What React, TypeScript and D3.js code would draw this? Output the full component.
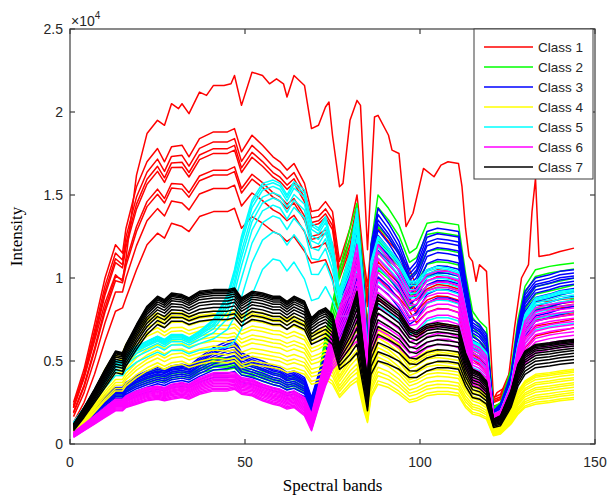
import React from "react";
import * as d3 from "d3";

// Band positions where each class envelope is sampled
const KNOTS = [
  1, 4, 7, 10, 13, 15, 16, 19, 22, 25,
  27, 29, 32, 34, 37, 41, 45, 47, 49, 52,
  55, 58, 60, 62, 64, 67, 69, 71, 73, 75,
  77, 80, 82, 84, 85, 86, 88, 91, 94, 97,
  99, 102, 105, 108, 111, 113, 115, 117, 119, 121,
  123, 126, 128, 130, 133, 137, 140, 144,
];

// Intensity envelopes (×10^4): upper and lower spectrum of every class
const CLASS1_HI = [
  0.25, 0.45, 0.72, 1.0, 1.2, 1.15, 1.3, 1.55, 1.7, 1.78,
  1.7, 1.79, 1.8, 1.73, 1.84, 1.88, 1.88, 1.9, 1.76, 1.86,
  1.8, 1.73, 1.7, 1.65, 1.69, 1.57, 1.4, 1.41, 1.46, 1.4,
  1.1, 1.3, 1.5, 1.1, 0.95, 1.2, 1.3, 1.22, 1.15, 1.05,
  0.95, 1.02, 1.05, 1.04, 1.02, 0.75, 0.65, 0.62, 0.55, 0.28,
  0.3, 0.45, 0.65, 0.78, 0.86, 0.86, 0.87, 0.88,
];
const CLASS1_LO = [
  0.13, 0.25, 0.42, 0.62, 0.8, 0.82, 0.88, 1.05, 1.2, 1.27,
  1.24, 1.33, 1.31, 1.28, 1.37, 1.4, 1.4, 1.42, 1.3, 1.37,
  1.33, 1.28, 1.26, 1.22, 1.25, 1.16, 1.09, 1.1, 1.11, 1.0,
  0.72, 0.82, 0.95, 0.7, 0.5, 0.7, 0.88, 0.82, 0.77, 0.7,
  0.64, 0.7, 0.72, 0.72, 0.7, 0.55, 0.45, 0.42, 0.38, 0.17,
  0.18, 0.3, 0.45, 0.58, 0.65, 0.67, 0.68, 0.7,
];
const CLASS2_HI = [
  0.09, 0.15, 0.22, 0.28, 0.33, 0.33, 0.36, 0.4, 0.43, 0.45,
  0.44, 0.46, 0.47, 0.46, 0.5, 0.52, 0.52, 0.53, 0.48, 0.48,
  0.45, 0.43, 0.42, 0.4, 0.41, 0.37, 0.25, 0.4, 0.65, 0.85,
  1.05, 1.3, 1.45, 1.0, 0.6, 1.2, 1.5, 1.42, 1.32, 1.15,
  1.18, 1.33, 1.34, 1.33, 1.32, 1.03, 0.8, 0.74, 0.7, 0.22,
  0.25, 0.45, 0.75, 0.95, 1.05, 1.07, 1.08, 1.09,
];
const CLASS2_LO = [
  0.07, 0.12, 0.18, 0.24, 0.28, 0.28, 0.31, 0.34, 0.36, 0.38,
  0.37, 0.39, 0.4, 0.39, 0.42, 0.44, 0.44, 0.45, 0.41, 0.4,
  0.37, 0.35, 0.34, 0.32, 0.33, 0.3, 0.2, 0.32, 0.5, 0.65,
  0.75, 0.9, 1.0, 0.7, 0.45, 0.8, 1.0, 0.95, 0.88, 0.78,
  0.8, 0.88, 0.9, 0.9, 0.88, 0.7, 0.55, 0.52, 0.48, 0.18,
  0.2, 0.35, 0.55, 0.7, 0.78, 0.8, 0.82, 0.85,
];
const CLASS3_HI = [
  0.1, 0.16, 0.23, 0.29, 0.34, 0.34, 0.37, 0.41, 0.44, 0.46,
  0.45, 0.47, 0.48, 0.47, 0.52, 0.58, 0.62, 0.63, 0.55, 0.52,
  0.5, 0.47, 0.46, 0.43, 0.44, 0.4, 0.28, 0.42, 0.55, 0.68,
  0.78, 1.15, 1.4, 0.95, 0.55, 1.2, 1.42, 1.33, 1.22, 1.05,
  1.1, 1.28, 1.3, 1.29, 1.28, 1.0, 0.75, 0.72, 0.66, 0.2,
  0.24, 0.42, 0.72, 0.92, 1.0, 1.02, 1.04, 1.05,
];
const CLASS3_LO = [
  0.07, 0.11, 0.16, 0.2, 0.24, 0.24, 0.26, 0.29, 0.31, 0.33,
  0.32, 0.34, 0.35, 0.34, 0.37, 0.4, 0.4, 0.41, 0.37, 0.36,
  0.34, 0.32, 0.31, 0.29, 0.3, 0.27, 0.18, 0.3, 0.42, 0.52,
  0.55, 0.8, 0.95, 0.65, 0.4, 0.8, 0.95, 0.9, 0.82, 0.72,
  0.75, 0.85, 0.88, 0.88, 0.86, 0.68, 0.52, 0.5, 0.45, 0.15,
  0.18, 0.32, 0.52, 0.65, 0.74, 0.76, 0.78, 0.8,
];
const CLASS4_HI = [
  0.1, 0.2, 0.32, 0.45, 0.55, 0.55, 0.6, 0.7, 0.76, 0.79,
  0.76, 0.79, 0.79, 0.77, 0.79, 0.8, 0.8, 0.81, 0.77, 0.8,
  0.79, 0.77, 0.77, 0.75, 0.77, 0.74, 0.66, 0.68, 0.71, 0.68,
  0.52, 0.65, 0.72, 0.45, 0.25, 0.55, 0.7, 0.66, 0.6, 0.5,
  0.52, 0.56, 0.57, 0.56, 0.55, 0.45, 0.38, 0.36, 0.32, 0.1,
  0.12, 0.22, 0.32, 0.38, 0.42, 0.43, 0.44, 0.45,
];
const CLASS4_LO = [
  0.06, 0.12, 0.19, 0.26, 0.32, 0.32, 0.35, 0.4, 0.44, 0.47,
  0.45, 0.47, 0.48, 0.46, 0.48, 0.5, 0.49, 0.5, 0.46, 0.48,
  0.47, 0.46, 0.45, 0.43, 0.44, 0.42, 0.36, 0.37, 0.39, 0.36,
  0.28, 0.35, 0.38, 0.2, 0.13, 0.28, 0.36, 0.34, 0.3, 0.25,
  0.26, 0.29, 0.3, 0.3, 0.29, 0.22, 0.18, 0.17, 0.15, 0.05,
  0.06, 0.12, 0.18, 0.22, 0.24, 0.25, 0.26, 0.27,
];
const CLASS5_HI = [
  0.13, 0.22, 0.32, 0.42, 0.5, 0.5, 0.54, 0.59, 0.62, 0.65,
  0.63, 0.66, 0.66, 0.64, 0.68, 0.75, 0.9, 1.05, 1.25, 1.47,
  1.57, 1.59, 1.57, 1.5, 1.58, 1.53, 1.33, 1.3, 1.37, 1.2,
  0.92, 1.15, 1.42, 0.9, 0.5, 1.1, 1.25, 1.18, 1.1, 0.98,
  0.98, 1.05, 1.07, 1.06, 1.04, 0.82, 0.62, 0.6, 0.55, 0.18,
  0.2, 0.36, 0.6, 0.78, 0.88, 0.9, 0.92, 0.93,
];
const CLASS5_LO = [
  0.1, 0.17, 0.25, 0.33, 0.4, 0.4, 0.43, 0.48, 0.51, 0.54,
  0.52, 0.55, 0.55, 0.53, 0.55, 0.55, 0.54, 0.56, 0.62, 0.82,
  0.98, 1.05, 1.04, 0.98, 1.03, 0.92, 0.8, 0.82, 0.89, 0.82,
  0.75, 0.72, 0.8, 0.55, 0.35, 0.65, 0.78, 0.74, 0.7, 0.62,
  0.63, 0.7, 0.72, 0.72, 0.7, 0.56, 0.44, 0.42, 0.38, 0.14,
  0.15, 0.28, 0.45, 0.58, 0.66, 0.68, 0.69, 0.7,
];
const CLASS6_HI = [
  0.07, 0.12, 0.17, 0.22, 0.27, 0.27, 0.29, 0.32, 0.34, 0.35,
  0.34, 0.36, 0.37, 0.36, 0.4, 0.43, 0.43, 0.43, 0.4, 0.39,
  0.36, 0.34, 0.33, 0.31, 0.32, 0.28, 0.18, 0.35, 0.52, 0.68,
  0.82, 1.0, 1.2, 0.85, 0.5, 1.0, 1.2, 1.12, 1.05, 0.92,
  0.93, 1.02, 1.04, 1.04, 1.02, 0.82, 0.6, 0.58, 0.53, 0.18,
  0.2, 0.35, 0.58, 0.74, 0.82, 0.84, 0.85, 0.86,
];
const CLASS6_LO = [
  0.04, 0.08, 0.12, 0.16, 0.2, 0.2, 0.22, 0.24, 0.26, 0.27,
  0.26, 0.27, 0.28, 0.27, 0.3, 0.32, 0.32, 0.33, 0.3, 0.29,
  0.26, 0.24, 0.23, 0.21, 0.22, 0.17, 0.08, 0.22, 0.35, 0.45,
  0.5, 0.58, 0.62, 0.45, 0.3, 0.55, 0.65, 0.62, 0.58, 0.52,
  0.53, 0.58, 0.6, 0.6, 0.58, 0.46, 0.36, 0.34, 0.31, 0.12,
  0.13, 0.24, 0.38, 0.48, 0.55, 0.57, 0.58, 0.59,
];
const CLASS7_HI = [
  0.12, 0.22, 0.33, 0.45, 0.56, 0.55, 0.6, 0.72, 0.83, 0.89,
  0.87, 0.91, 0.9, 0.88, 0.92, 0.93, 0.93, 0.94, 0.88, 0.92,
  0.91, 0.89, 0.89, 0.86, 0.89, 0.86, 0.76, 0.8, 0.82, 0.78,
  0.6, 0.78, 0.92, 0.55, 0.39, 0.75, 0.9, 0.85, 0.8, 0.7,
  0.68, 0.72, 0.73, 0.72, 0.71, 0.55, 0.45, 0.43, 0.38, 0.15,
  0.17, 0.32, 0.48, 0.56, 0.6, 0.61, 0.62, 0.63,
];
const CLASS7_LO = [
  0.08, 0.16, 0.25, 0.34, 0.43, 0.42, 0.47, 0.57, 0.66, 0.72,
  0.7, 0.74, 0.74, 0.72, 0.74, 0.75, 0.75, 0.76, 0.71, 0.75,
  0.74, 0.72, 0.72, 0.69, 0.72, 0.69, 0.6, 0.62, 0.64, 0.6,
  0.45, 0.5, 0.55, 0.32, 0.2, 0.42, 0.5, 0.48, 0.45, 0.4,
  0.4, 0.44, 0.46, 0.46, 0.45, 0.35, 0.28, 0.27, 0.24, 0.1,
  0.11, 0.22, 0.35, 0.42, 0.46, 0.47, 0.48, 0.49,
];

// Brightest Class 1 sample, which has its own spectrum
const TOP_BANDS = [
  1, 4, 7, 10, 13, 15, 16, 19, 22, 25, 27, 29, 31, 32, 34, 37, 39, 41, 44, 46,
  47, 49, 52, 55, 57, 59, 61, 62, 64, 67, 69, 71, 73, 74, 75, 77, 78, 80, 82, 83,
  85, 87, 88, 91, 92, 94, 96, 98, 101, 104, 106, 108, 111, 112, 113, 114, 115, 116, 117, 119,
  120, 121, 122, 125, 127, 129, 131, 132, 133, 134, 137, 140, 144,
];
const TOP_VALUES = [
  0.22, 0.4, 0.62, 0.85, 1.02, 0.98, 1.12, 1.62, 1.87, 1.95, 1.92, 2.05, 2.02, 2.05, 1.99, 2.12, 2.1, 2.16, 2.16, 2.17,
  2.22, 2.04, 2.24, 2.22, 2.17, 2.2, 2.17, 2.09, 2.22, 2.16, 1.9, 1.92, 2.03, 2.06, 1.86, 1.55, 1.57, 1.95, 2.07, 2.04,
  1.17, 1.97, 1.98, 1.86, 1.77, 1.75, 1.31, 1.39, 1.66, 1.61, 1.68, 1.7, 1.69, 1.55, 1.3, 1.13, 1.1, 0.98, 1.08, 1.04,
  0.65, 0.27, 0.31, 0.35, 0.7, 1.0, 1.08, 1.4, 1.6, 1.13, 1.14, 1.16, 1.18,
];

// Position of each sample between its class's lower (0) and upper (1) envelope
const CLASS1_LEVELS = [1, 0.875, 0.79, 0.73, 0.52, 0.46, 0.29, 0];
const CLASS2_LEVELS = [1, 0.85, 0.62, 0.45, 0.3, 0.1];
const CLASS3_LEVELS = [1, 0.92, 0.85, 0.8, 0.72, 0.65, 0.55, 0.46, 0.36, 0.25, 0.12, 0];
const CLASS4_LEVELS = [1, 0.95, 0.9, 0.82, 0.72, 0.65, 0.55, 0.48, 0.4, 0.3, 0.22, 0.15, 0.06, 0];
const CLASS5_LEVELS = [1, 0.97, 0.93, 0.86, 0.8, 0.72, 0.6, 0.42, 0.12];
const CLASS6_LEVELS = [1, 0.92, 0.85, 0.78, 0.7, 0.62, 0.55, 0.48, 0.4, 0.32, 0.24, 0.15, 0.07, 0];
const CLASS7_LEVELS = [1, 0.96, 0.92, 0.87, 0.8, 0.72, 0.62, 0.52, 0.4, 0.28, 0.14, 0];

const CLASS_NAMES = ["Class 1", "Class 2", "Class 3", "Class 4", "Class 5", "Class 6", "Class 7"];
const CLASS_COLORS = ["#ff0000", "#00ff00", "#0000ff", "#ffff00", "#00ffff", "#ff00ff", "#000000"];

const X_TICKS = [0, 50, 100, 150];
const Y_TICKS = [0, 0.5, 1, 1.5, 2, 2.5];

const W = 608;
const H = 495;
const PLOT = { left: 70, right: 595, top: 29, bottom: 444 };

const x = d3.scaleLinear().domain([0, 150]).range([PLOT.left, PLOT.right]);
const y = d3.scaleLinear().domain([0, 2.5]).range([PLOT.bottom, PLOT.top]);

const line = d3
  .line<[number, number]>()
  .x((d) => x(d[0]))
  .y((d) => y(d[1]));

type ClassDef = { lo: number[]; hi: number[]; levels: number[] };
const CLASSES: ClassDef[] = [
  { lo: CLASS1_LO, hi: CLASS1_HI, levels: CLASS1_LEVELS },
  { lo: CLASS2_LO, hi: CLASS2_HI, levels: CLASS2_LEVELS },
  { lo: CLASS3_LO, hi: CLASS3_HI, levels: CLASS3_LEVELS },
  { lo: CLASS4_LO, hi: CLASS4_HI, levels: CLASS4_LEVELS },
  { lo: CLASS5_LO, hi: CLASS5_HI, levels: CLASS5_LEVELS },
  { lo: CLASS6_LO, hi: CLASS6_HI, levels: CLASS6_LEVELS },
  { lo: CLASS7_LO, hi: CLASS7_HI, levels: CLASS7_LEVELS },
];

function sampleSpectra(c: ClassDef): [number, number][][] {
  return c.levels.map((t) =>
    KNOTS.map((b, i) => [b, c.lo[i] + t * (c.hi[i] - c.lo[i])] as [number, number])
  );
}

const AXIS = "#3c3c3c";
const TEXT = "#262626";
const SANS = "'Liberation Sans', Arial, sans-serif";
const SERIF = "'Liberation Serif', 'Times New Roman', serif";

export default function App() {
  const topSpectrum = TOP_BANDS.map((b, i) => [b, TOP_VALUES[i]] as [number, number]);
  const tickLen = 5;

  return (
    <svg width={W} height={H} style={{ position: "absolute", left: 0, top: 0, background: "#fff" }}>
      <defs>
        <clipPath id="plot-area">
          <rect x={PLOT.left} y={PLOT.top} width={PLOT.right - PLOT.left} height={PLOT.bottom - PLOT.top} />
        </clipPath>
      </defs>

      <g clipPath="url(#plot-area)" fill="none" strokeWidth={1.5} strokeLinejoin="round">
        {CLASSES.map((c, ci) => (
          <g key={ci} stroke={CLASS_COLORS[ci]}>
            {ci === 0 && <path d={line(topSpectrum) ?? ""} />}
            {sampleSpectra(c).map((s, si) => (
              <path key={si} d={line(s) ?? ""} />
            ))}
          </g>
        ))}
      </g>

      {/* axes box with inward ticks */}
      <g stroke={AXIS} strokeWidth={1.2} fill="none">
        <rect x={PLOT.left} y={PLOT.top} width={PLOT.right - PLOT.left} height={PLOT.bottom - PLOT.top} />
        {X_TICKS.map((t) => (
          <g key={"x" + t}>
            <line x1={x(t)} x2={x(t)} y1={PLOT.bottom} y2={PLOT.bottom - tickLen} />
            <line x1={x(t)} x2={x(t)} y1={PLOT.top} y2={PLOT.top + tickLen} />
          </g>
        ))}
        {Y_TICKS.map((t) => (
          <g key={"y" + t}>
            <line x1={PLOT.left} x2={PLOT.left + tickLen} y1={y(t)} y2={y(t)} />
            <line x1={PLOT.right} x2={PLOT.right - tickLen} y1={y(t)} y2={y(t)} />
          </g>
        ))}
      </g>

      <g fill={TEXT} fontFamily={SANS} fontSize={14}>
        {X_TICKS.map((t) => (
          <text key={"xl" + t} x={x(t)} y={467} textAnchor="middle">
            {t}
          </text>
        ))}
        {Y_TICKS.map((t) => (
          <text key={"yl" + t} x={63} y={y(t) + 5} textAnchor="end">
            {t}
          </text>
        ))}
        <text x={71} y={26}>
          ×10
          <tspan fontSize={10} dy={-7}>
            4
          </tspan>
        </text>
      </g>

      <text x={(PLOT.left + PLOT.right) / 2} y={491} textAnchor="middle" fontFamily={SERIF} fontSize={17} fill="#000">
        Spectral bands
      </text>
      <text
        transform={`translate(22,${(PLOT.top + PLOT.bottom) / 2}) rotate(-90)`}
        textAnchor="middle"
        fontFamily={SERIF}
        fontSize={17}
        fill="#000"
      >
        Intensity
      </text>

      {/* legend */}
      <g>
        <rect x={474} y={29} width={119} height={150} fill="#fff" stroke={AXIS} strokeWidth={1} />
        {CLASS_NAMES.map((name, i) => {
          const ly = 47 + i * 20;
          return (
            <g key={name}>
              <line x1={484} x2={533} y1={ly} y2={ly} stroke={CLASS_COLORS[i]} strokeWidth={1.5} />
              <text x={538} y={ly + 5} fontFamily={SANS} fontSize={13.5} fill={TEXT}>
                {name}
              </text>
            </g>
          );
        })}
      </g>
    </svg>
  );
}
